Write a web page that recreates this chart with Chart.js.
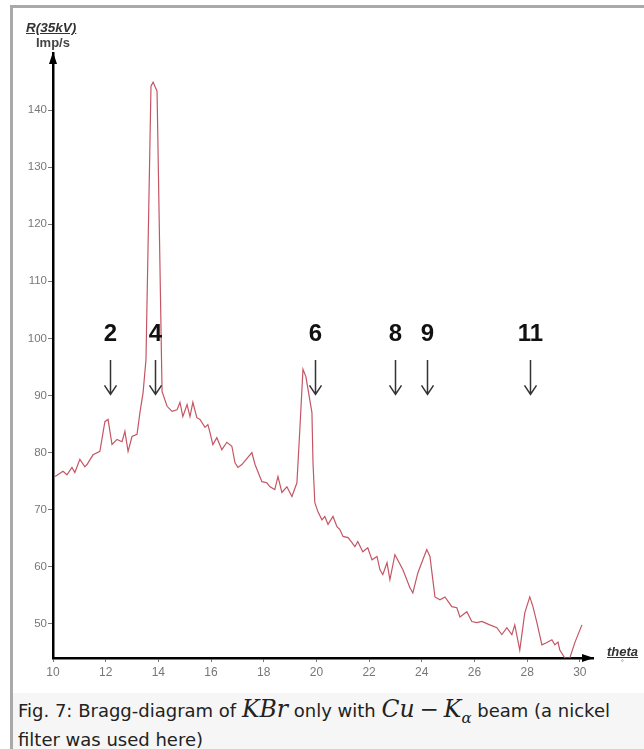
<!DOCTYPE html>
<html>
<head>
<meta charset="utf-8">
<script src="https://cdn.jsdelivr.net/npm/chart.js@4"></script>
<style>
  html, body { margin: 0; padding: 0; background: #fff; }
  body { width: 644px; height: 749px; position: relative; overflow: hidden; font-family: "DejaVu Sans", sans-serif; }
  .frame { position: absolute; left: 10px; top: 5px; width: 640px; height: 750px; border-left: 3px solid #a9a9a9; border-top: 3px solid #a9a9a9; }
  .plot { position: absolute; left: 0; top: 0; width: 644px; height: 693px; }
  .caption { position: absolute; left: 13px; top: 693px; width: 631px; height: 56px; background: #f6f6f6; box-sizing: border-box; padding: 5px 0 0 5px; font-size: 18px; line-height: 22px; color: #222; white-space: nowrap; }
  .caption .m { font-family: "DejaVu Serif", serif; font-style: italic; font-size: 23.5px; }
  .caption .op { font-family: "DejaVu Serif", serif; font-size: 23px; margin: 0 5px; }
  .caption sub { font-size: 15px; }
  .ytitle { position: absolute; left: 26px; top: 20px; font: italic bold 13.5px "Liberation Sans", sans-serif; color: #333; text-decoration: underline; }
  .yunit { position: absolute; left: 36px; top: 35px; font: bold 13px "Liberation Sans", sans-serif; color: #444; }
  .xtitle { position: absolute; left: 607px; top: 644px; font: italic bold 13px "Liberation Sans", sans-serif; color: #333; text-decoration: underline; }
  .xunit { position: absolute; left: 621px; top: 659px; font: 7px "Liberation Sans", sans-serif; color: #666; }
</style>
</head>
<body>
<div class="frame"></div>
<div class="plot"><canvas id="bragg"></canvas></div>
<div class="ytitle">R(35kV)</div>
<div class="yunit">Imp/s</div>
<div class="xtitle">theta</div>
<div class="xunit">°</div>
<div class="caption">Fig. 7: Bragg-diagram of <span class="m">KBr</span> only with <span class="m">Cu</span><span class="op">−</span><span class="m">K<sub>α</sub></span> beam (a nickel<br>filter was used here)</div>
<script>
const thetaValues = [
  10.08, 10.38, 10.53, 10.72, 10.83, 11.02, 11.21, 11.29, 11.52, 11.78,
  11.97, 12.09, 12.24, 12.43, 12.62, 12.73, 12.85, 13.00, 13.19, 13.30,
  13.42, 13.53, 13.72, 13.80, 13.95, 14.14, 14.33, 14.52, 14.71, 14.82,
  14.93, 15.09, 15.20, 15.31, 15.46, 15.58, 15.77, 15.88, 15.96, 16.07,
  16.22, 16.41, 16.60, 16.79, 16.91, 17.02, 17.17, 17.55, 17.67, 17.93,
  18.12, 18.24, 18.42, 18.54, 18.69, 18.88, 19.07, 19.26, 19.37, 19.49,
  19.60, 19.68, 19.83, 19.87, 19.94, 20.06, 20.21, 20.32, 20.44, 20.63,
  20.78, 20.89, 21.01, 21.20, 21.35, 21.46, 21.57, 21.76, 21.95, 22.11,
  22.30, 22.41, 22.52, 22.68, 22.79, 22.98, 23.28, 23.55, 23.66, 23.85,
  24.04, 24.19, 24.31, 24.42, 24.50, 24.69, 24.88, 25.14, 25.33, 25.45,
  25.71, 25.90, 26.09, 26.28, 26.58, 26.85, 27.04, 27.23, 27.42, 27.53,
  27.72, 27.91, 28.10, 28.22, 28.37, 28.56, 28.75, 28.94, 29.05, 29.17,
  29.24, 29.43, 29.62, 29.81, 30.08
];
const intensityValues = [
  75.8, 76.7, 76.1, 77.4, 76.5, 78.8, 77.5, 77.9, 79.6, 80.2,
  85.4, 85.8, 81.4, 82.3, 81.9, 83.7, 80.2, 82.8, 83.2, 87.0,
  90.5, 96.3, 144.2, 144.9, 143.3, 90.7, 88.1, 87.2, 87.5, 88.8,
  86.3, 88.4, 86.3, 88.8, 86.1, 85.8, 84.4, 84.9, 83.5, 81.4,
  82.6, 80.5, 81.8, 81.1, 78.2, 77.4, 77.9, 80.0, 77.9, 74.9,
  74.7, 74.0, 73.5, 75.8, 73.0, 74.0, 72.3, 74.7, 84.0, 94.6,
  93.3, 91.1, 87.0, 78.2, 71.2, 69.6, 68.2, 68.8, 67.4, 68.8,
  67.0, 66.5, 65.3, 65.1, 64.2, 63.5, 64.4, 62.6, 63.3, 61.2,
  61.8, 59.5, 58.6, 60.7, 57.7, 62.1, 59.5, 56.3, 55.4, 58.9,
  61.2, 63.0, 61.8, 57.7, 54.7, 54.2, 54.7, 53.0, 52.8, 51.2,
  52.1, 50.4, 50.2, 50.4, 49.8, 49.3, 48.1, 49.3, 48.1, 49.8,
  45.4, 51.9, 54.7, 53.0, 50.2, 46.3, 46.7, 47.2, 46.3, 46.8,
  45.4, 44.0, 44.0, 46.7, 49.8
];
const xTicks = [10, 12, 14, 16, 18, 20, 22, 24, 26, 28, 30];
const yTicks = [50, 60, 70, 80, 90, 100, 110, 120, 130, 140];
const peakLabels = ['2', '4', '6', '8', '9', '11'];
const peakThetas = [12.16, 13.87, 19.94, 22.98, 24.19, 28.10];

const points = thetaValues.map((t, i) => ({ x: t, y: intensityValues[i] }));

const axisArrows = {
    id: 'axisArrows',
    afterDraw(chart) {
        const ctx = chart.ctx;
        const a = chart.chartArea;
        ctx.save();
        ctx.fillStyle = '#000';
        ctx.beginPath();
        ctx.moveTo(a.left, a.top - 1);
        ctx.lineTo(a.left - 4, a.top + 11);
        ctx.lineTo(a.left + 4, a.top + 11);
        ctx.closePath();
        ctx.fill();
        ctx.beginPath();
        ctx.moveTo(a.right + 1, a.bottom);
        ctx.lineTo(a.right - 11, a.bottom - 4);
        ctx.lineTo(a.right - 11, a.bottom + 4);
        ctx.closePath();
        ctx.fill();
        ctx.restore();
    }
};

const peakMarks = {
    id: 'peakMarks',
    afterDatasetsDraw(chart) {
        const ctx = chart.ctx;
        const xs = chart.scales.x;
        const ys = chart.scales.y;
        ctx.save();
        ctx.textAlign = 'center';
        ctx.textBaseline = 'middle';
        ctx.font = 'bold 24px "Liberation Sans", Arial, sans-serif';
        peakLabels.forEach((lab, i) => {
            const px = Math.round(xs.getPixelForValue(peakThetas[i])) + 0.5;
            ctx.fillStyle = '#111';
            ctx.fillText(lab, px, ys.getPixelForValue(100.7));
            const y0 = ys.getPixelForValue(96.2);
            const y1 = ys.getPixelForValue(90.2);
            ctx.strokeStyle = '#333';
            ctx.lineWidth = 1.5;
            ctx.beginPath();
            ctx.moveTo(px, y0);
            ctx.lineTo(px, y1);
            ctx.moveTo(px - 6, y1 - 9);
            ctx.lineTo(px, y1);
            ctx.lineTo(px + 6, y1 - 9);
            ctx.stroke();
        });
        ctx.restore();
    }
};

new Chart(document.getElementById('bragg').getContext('2d'), {
    type: 'line',
    data: {
        datasets: [{
            data: points,
            borderColor: 'rgb(196, 86, 100)',
            borderWidth: 1.2,
            pointRadius: 0,
            tension: 0,
            fill: false
        }]
    },
    options: {
        responsive: true,
        maintainAspectRatio: false,
        animation: false,
        layout: { padding: { left: 0, right: 51, top: 53, bottom: 13 } },
        plugins: {
            legend: { display: false },
            tooltip: { enabled: false }
        },
        scales: {
            x: {
                type: 'linear',
                min: 10,
                max: 30.5,
                afterBuildTicks: s => { s.ticks = xTicks.map(v => ({ value: v })); },
                afterFit: s => { s.height = 22; },
                border: { display: true, color: '#000', width: 2.5 },
                grid: { drawOnChartArea: false, drawTicks: true, tickLength: 4, color: '#777' },
                ticks: { padding: 3, color: '#777', font: { family: 'Liberation Sans', size: 12 }, maxRotation: 0 }
            },
            y: {
                min: 44,
                max: 150,
                afterBuildTicks: s => { s.ticks = yTicks.map(v => ({ value: v })); },
                afterFit: s => { s.width = 53; },
                border: { display: true, color: '#000', width: 2.5 },
                grid: { drawOnChartArea: false, drawTicks: true, tickLength: 5, color: '#777' },
                ticks: { padding: 1, color: '#777', font: { family: 'Liberation Sans', size: 11.5 } }
            }
        }
    },
    plugins: [axisArrows, peakMarks]
});
</script>
</body>
</html>
